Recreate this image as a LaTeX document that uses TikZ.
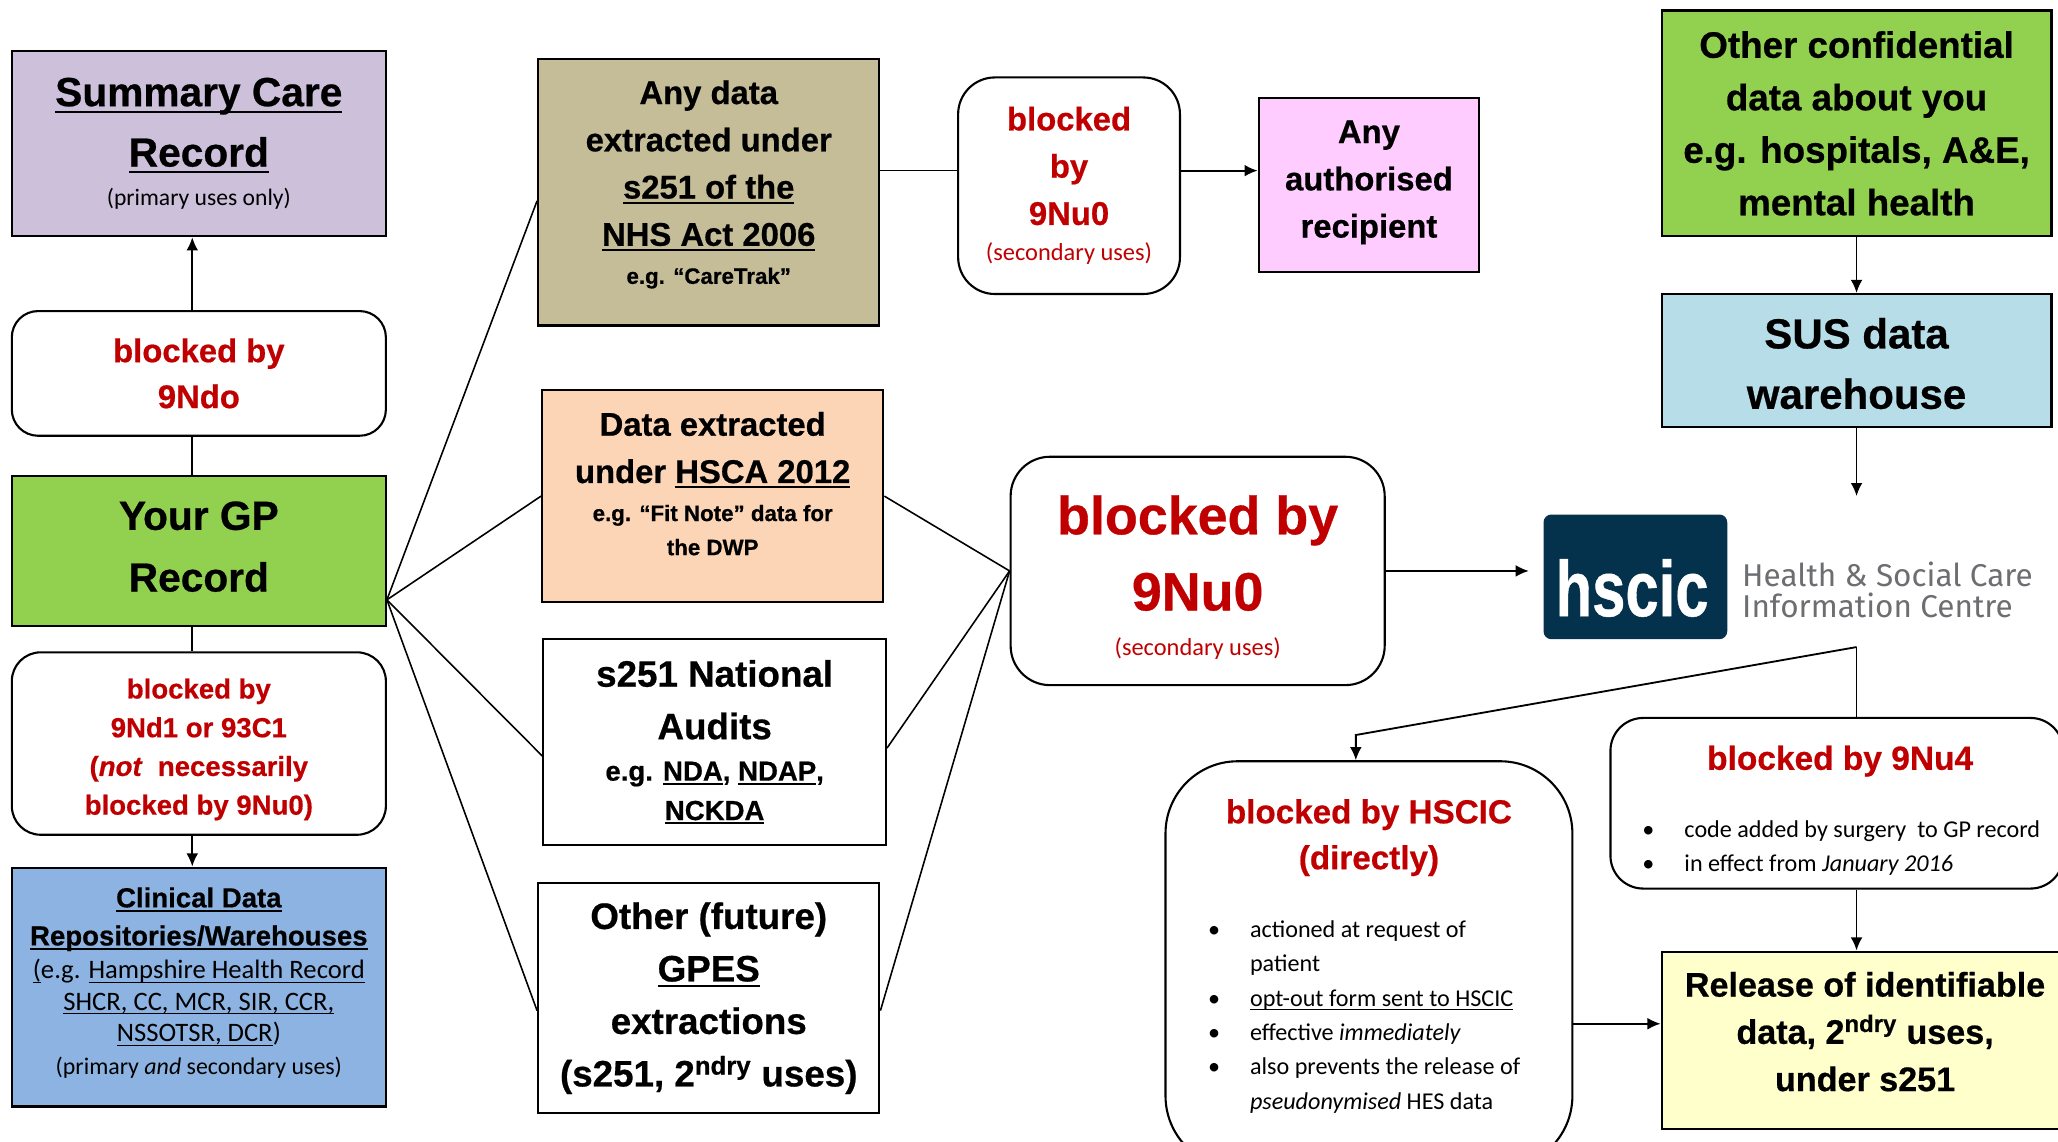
\documentclass[tikz,border=0pt]{standalone}
\usepackage{fontspec}
\setmainfont{Liberation Sans}[BoldFeatures={FakeBold=0.6},BoldItalicFeatures={FakeBold=0.6}]
\newfontfamily\carlito{Carlito}
\newfontfamily\logofont{Fira Sans}
\usetikzlibrary{arrows.meta,calc}
\newlength\ulth \setlength\ulth{1.6pt}
\newsavebox\ulbox
\newcommand\uline[1]{\sbox\ulbox{#1}\rlap{\rule[-0.16em]{\wd\ulbox}{\ulth}}\usebox\ulbox}
\newcommand\ulthin[1]{{\setlength\ulth{0.9pt}\uline{#1}}}
\newcommand\bsz[2]{\fontsize{#1}{#2}\selectfont\bfseries}
\newcommand\calsz[2]{\carlito\mdseries\fontsize{#1}{#2}\selectfont}
\newcommand\lbul{\makebox[32pt][l]{\textbullet}}
\definecolor{redtxt}{HTML}{C00000}
\definecolor{lavender}{HTML}{CCC0DA}
\definecolor{gpgreen}{HTML}{92D050}
\definecolor{cdrblue}{HTML}{8DB3E2}
\definecolor{khaki}{HTML}{C4BD97}
\definecolor{peach}{HTML}{FBD5B5}
\definecolor{pinkbox}{HTML}{FFCCFF}
\definecolor{susblue}{HTML}{B7DDE8}
\definecolor{relyellow}{HTML}{FFFFCC}
\definecolor{navy}{HTML}{04324D}
\definecolor{logogray}{HTML}{6D6E71}

\begin{document}
\begin{tikzpicture}[x=1pt, y=-1pt,
  box/.style={draw, line width=1.6pt, inner sep=0pt},
  rbox/.style={box, rounded corners=#1},
  rbox/.default=20pt,
  txt/.style={align=center, inner sep=0pt},
  conn/.style={line width=1.2pt},
  arr/.style={line width=1.4pt, -{Latex[length=10pt,width=9pt]}}]
\useasboundingbox (0,0) rectangle (1568,870);

%%%%% left column %%%%%
\node[box, fill=lavender, minimum width=285pt, minimum height=141pt] (scr) at (151.5,109.5) {};
\node[txt, font={\bsz{31}{46}}] (scrtxt) at (scr.center)
  {\uline{Summary Care}\\\uline{Record}\\[-16pt]{\calsz{18}{18}(primary uses only)}};

\node[rbox=20pt, minimum width=285pt, minimum height=95pt] (b9ndo) at (151.5,284.5) {};
\node[txt, text=redtxt, font={\bsz{25}{35}}] (b9ndotxt) at (b9ndo.center) {blocked by\\9Ndo};

\node[box, fill=gpgreen, minimum width=285pt, minimum height=114pt] (gp) at (151.5,420) {};
\node[txt, font={\bsz{31}{47}}] (gptxt) at ([yshift=3.5pt]gp.center) {Your GP\\Record};

\node[rbox=22pt, minimum width=285pt, minimum height=139pt] (b9nd1) at (151.5,566.5) {};
\node[txt, text=redtxt, font={\bsz{21}{29.5}}] (b9nd1txt) at ([yshift=-4.5pt]b9nd1.center)
  {blocked by\\9Nd1 or 93C1\\(\textit{not}\ \ necessarily\\blocked by 9Nu0)};

\node[box, fill=cdrblue, minimum width=285pt, minimum height=182pt] (cdr) at (151.5,752) {};
\node[txt, font={\bsz{21}{24}}] (cdrtxt) at ([yshift=3pt]cdr.center)
  {\uline{Clinical Data}\\[5pt]
   \uline{Repositories/Warehouses}\\[1.3pt]
   {\calsz{20.3}{24}\ulthin{(}e.g. \ulthin{Hampshire Health Record}}\\
   {\calsz{20.3}{24}\ulthin{SHCR, CC, MCR, SIR, CCR,}}\\
   {\calsz{20.3}{24}\ulthin{NSSOTSR, DCR})}\\[1.4pt]
   {\calsz{18.2}{24}(primary \textit{and} secondary uses)}};

\draw[arr] ([xshift=-5pt]b9ndo.north) -- ([xshift=-5pt]scr.south);
\draw[conn] ([xshift=-5pt]b9ndo.south) -- ([xshift=-5pt]gp.north);
\draw[conn] ([xshift=-5pt]gp.south) -- ([xshift=-5pt]b9nd1.north);
\draw[arr] ([xshift=-5pt]b9nd1.south) -- ([xshift=-5pt]cdr.north);

%%%%% middle column %%%%%
\node[box, fill=khaki, minimum width=260pt, minimum height=203pt] (anyd) at (540,146.5) {};
\node[txt, font={\bsz{25}{36}}] (anydtxt) at ([yshift=6pt]anyd.center)
  {Any data\\extracted under\\\uline{s251 of the}\\\uline{NHS Act 2006}\\[-7pt]{\fontsize{17}{17}\selectfont e.g. “CareTrak”}};

\node[box, fill=peach, minimum width=260pt, minimum height=162pt] (hsca) at (543,378) {};
\node[txt, font={\bsz{25}{36}}] (hscatxt) at ([yshift=9.5pt]hsca.center)
  {Data extracted\\under \uline{HSCA 2012}\\[-7pt]{\fontsize{17}{17}\selectfont e.g. “Fit Note” data for}\\[-10pt]{\fontsize{17}{17}\selectfont the DWP}};

\node[box, minimum width=261pt, minimum height=157pt] (s251) at (544.5,565.5) {};
\node[txt, font={\bsz{28}{40}}] (s251txt) at (s251.center)
  {s251 National\\Audits\\[-8.4pt]{\fontsize{21}{21}\selectfont e.g. \uline{NDA}, \uline{NDAP},}\\[-10pt]{\fontsize{21}{21}\selectfont\uline{NCKDA}}};

\node[box, minimum width=260pt, minimum height=175pt] (gpes) at (540,760.5) {};
\node[txt, font={\bsz{28}{40}}] (gpestxt) at (gpes.center)
  {Other (future)\\\uline{GPES}\\extractions\\(s251, 2\textsuperscript{ndry} uses)};

\coordinate (fan) at ([yshift=-37pt]gp.east);
\draw[conn] (fan) -- ([yshift=-6.5pt]anyd.west);
\draw[conn] (fan) -- (hsca.west);
\draw[conn] (fan) -- ([yshift=-10.5pt]s251.west);
\draw[conn] (fan) -- ([yshift=-9.5pt]gpes.west);

%%%%% blocked by 9Nu0 %%%%%
\node[rbox=28pt, minimum width=169pt, minimum height=165pt] (b9nu0a) at (814.5,141.5) {};
\node[txt, text=redtxt, font={\bsz{25}{36}}] (b9nu0atxt) at (b9nu0a.center)
  {blocked\\by\\9Nu0\\[-8.6pt]{\calsz{18.6}{18}(secondary uses)}};

\node[box, fill=pinkbox, minimum width=168pt, minimum height=132pt] (auth) at (1043,141) {};
\node[txt, font={\bsz{25}{36}}] (authtxt) at ([yshift=2pt]auth.center) {Any\\authorised\\recipient};

\draw[conn] ([yshift=16.5pt]anyd.east) -- ([yshift=16.5pt]anyd.east -| b9nu0a.west);
\draw[arr] ([yshift=11.5pt]b9nu0a.east) -- ([yshift=11.5pt]b9nu0a.east -| auth.west);

\node[rbox=30pt, minimum width=285pt, minimum height=174pt] (b9nu0b) at (912.5,435) {};
\node[txt, text=redtxt, font={\bsz{41}{58}}] (b9nu0btxt) at ([yshift=-5pt]b9nu0b.center)
  {blocked by\\9Nu0\\[-23.4pt]{\calsz{18.6}{18}(secondary uses)}};

\draw[conn] (hsca.east) -- (b9nu0b.west);
\draw[conn] ([yshift=-4.5pt]s251.east) -- (b9nu0b.west);
\draw[conn] ([yshift=-9.5pt]gpes.east) -- (b9nu0b.west);

%%%%% hscic logo %%%%%
\node[fill=navy, rounded corners=6pt, minimum width=140pt, minimum height=95pt, inner sep=0pt] (logo) at (1246,439.5) {};
\node[inner sep=0pt, text=white] (logotxt) at ([xshift=-2.5pt,yshift=-8.5pt]logo.center)
  {\scalebox{0.76}[1]{\fontsize{60}{60}\selectfont\bfseries hscic}};
\node[anchor=west, inner sep=0pt, align=left, text=logogray, font={\logofont\fontsize{24}{24}\selectfont}] (logoname)
  at ([xshift=11pt,yshift=-10pt]logo.east) {Health \& Social Care\\Information Centre};
\coordinate (logoin) at ([xshift=-11pt]logo.west);
\draw[arr] (b9nu0b.east) -- (b9nu0b.east -| logoin);

%%%%% right column %%%%%
\node[box, fill=gpgreen, minimum width=297pt, minimum height=172pt] (oconf) at (1414.5,94) {};
\node[txt, font={\bsz{28}{40}}] (oconftxt) at (oconf.center)
  {Other confidential\\data about you\\e.g. hospitals, A\&E,\\mental health};

\node[box, fill=susblue, minimum width=297pt, minimum height=101pt] (sus) at (1414.5,274.5) {};
\node[txt, font={\bsz{32}{46}}] (sustxt) at ([yshift=-2.5pt]sus.center) {SUS data\\warehouse};

\coordinate (hsin) at (1414.5,378);
\draw[arr] (oconf.south) -- (sus.north);
\draw[arr] (sus.south) -- (hsin);

\node[rbox=25pt, minimum width=345pt, minimum height=130pt] (b9nu4) at (1399.5,612) {};
\node[txt, text=redtxt, font={\bsz{25.5}{30}}] (b9nu4txt) at ([xshift=2.5pt,yshift=-33.7pt]b9nu4.north) {blocked by 9Nu4};
\node[anchor=north west, inner sep=0pt, align=left, font={\calsz{18.4}{26}}] (b9nu4list)
  at ([xshift=25pt,yshift=-79pt]b9nu4.north west)
  {\lbul code added by surgery\ \ to GP record\\\lbul in effect from \textit{January 2016}};

\node[rbox=55pt, minimum width=310pt, minimum height=310pt] (hscicbox) at (1043,735) {};
\node[txt, text=redtxt, font={\bsz{25.3}{35}}] (hscictxt) at ([yshift=-59pt]hscicbox.north) {blocked by HSCIC\\(directly)};
\node[anchor=north west, inner sep=0pt, align=left, font={\calsz{18.4}{26.2}}] (hsciclist)
  at ([xshift=33pt,yshift=-122pt]hscicbox.north west)
  {\lbul actioned at request of\\
   \hspace*{32pt}patient\\
   \lbul\ulthin{opt-out form sent to HSCIC}\\
   \lbul effective \textit{immediately}\\
   \lbul also prevents the release of\\
   \hspace*{32pt}\textit{pseudonymised} HES data};

\node[box, fill=relyellow, minimum width=310pt, minimum height=135pt] (release) at (1421,792.5) {};
\node[txt, font={\bsz{26}{36}}] (releasetxt) at ([yshift=6.5pt]release.center)
  {Release of identifiable\\data, 2\textsuperscript{ndry} uses,\\under s251};

\coordinate (split) at (1414.5,493);
\coordinate (bend) at (1033,560);
\draw[conn] (split) -- (split |- b9nu4.north);
\draw[arr] (split) -- (bend) -- (bend |- hscicbox.north);
\draw[arr] (split |- b9nu4.south) -- (split |- release.north);
\draw[arr] ([yshift=-45pt]hscicbox.east) -- ([yshift=-45pt]hscicbox.east -| release.west);
\end{tikzpicture}
\end{document}
